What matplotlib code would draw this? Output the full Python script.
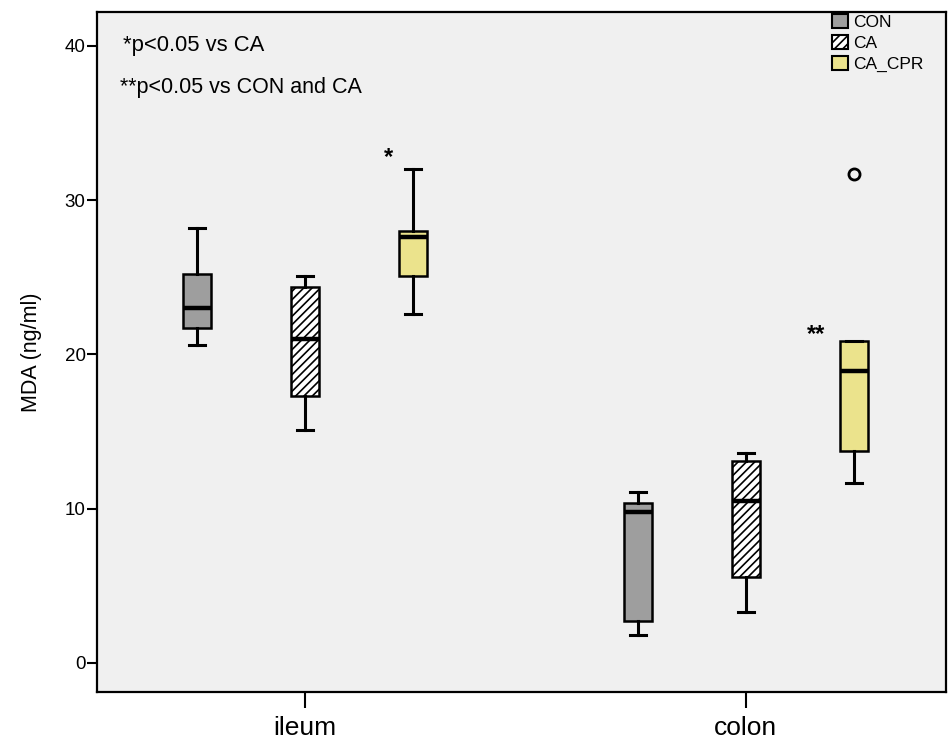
import matplotlib
matplotlib.use("Agg")
import matplotlib.pyplot as plt
from matplotlib.patches import Patch

plt.rcParams['font.family'] = ['Liberation Sans', 'DejaVu Sans']
plt.rcParams['hatch.linewidth'] = 1.2

categories = ['ileum', 'colon']
groups = ['CON', 'CA', 'CA_CPR']

# box statistics per group: [ileum, colon]
whislo = {'CON': [20.6, 1.8], 'CA': [15.1, 3.3], 'CA_CPR': [22.6, 11.65]}
q1     = {'CON': [21.7, 2.75], 'CA': [17.3, 5.6], 'CA_CPR': [25.1, 13.75]}
med    = {'CON': [23.0, 9.8], 'CA': [21.0, 10.5], 'CA_CPR': [27.6, 18.9]}
q3     = {'CON': [25.2, 10.4], 'CA': [24.35, 13.1], 'CA_CPR': [28.0, 20.9]}
whishi = {'CON': [28.2, 11.1], 'CA': [25.1, 13.6], 'CA_CPR': [32.0, 20.9]}
fliers = {'CON': [[], []], 'CA': [[], []], 'CA_CPR': [[], [31.7]]}

yticks = [0, 10, 20, 30, 40]
notes = ['*p<0.05 vs CA', '**p<0.05 vs CON and CA']
star_labels = ['*', '**']
star_pos = [(0.190, 32.9), (1.159, 21.45)]

colors = {'CON': '#9e9e9e', 'CA': 'white', 'CA_CPR': '#ebe38c'}
hatches = {'CON': None, 'CA': '////', 'CA_CPR': None}
offsets = {'CON': -0.245, 'CA': 0.0, 'CA_CPR': 0.245}

fig = plt.figure(figsize=(9.49, 7.44), dpi=100)
ax = fig.add_axes([97/949, 52/744, (946-97)/949, (692-12)/744])
ax.set_facecolor('#f0f0f0')

for g in groups:
    stats = []
    for i in range(len(categories)):
        stats.append(dict(med=med[g][i], q1=q1[g][i], q3=q3[g][i],
                          whislo=whislo[g][i], whishi=whishi[g][i],
                          fliers=fliers[g][i]))
    pos = [i + offsets[g] for i in range(len(categories))]
    bp = ax.bxp(stats, positions=pos, widths=0.063, patch_artist=True,
                showfliers=True,
                boxprops=dict(linewidth=1.8, edgecolor='black'),
                medianprops=dict(color='black', linewidth=3.2),
                whiskerprops=dict(color='black', linewidth=2.2),
                capprops=dict(color='black', linewidth=2.2),
                capwidths=0.035,
                flierprops=dict(marker='o', markersize=8, markerfacecolor='none',
                                markeredgecolor='black', markeredgewidth=2.0))
    for b in bp['boxes']:
        b.set_facecolor(colors[g])
        if hatches[g]:
            b.set_hatch(hatches[g])

ax.set_xlim(-0.472, 1.454)
ax.set_ylim(-1.88, 42.2)
ax.set_xticks(range(len(categories)))
ax.set_xticklabels(categories, fontsize=19)
ax.set_yticks(yticks)
ax.set_yticklabels([str(t) for t in yticks], fontsize=13.5)
ax.tick_params(axis='y', direction='out', length=7.2, width=1.5, color='black', pad=1)
ax.tick_params(axis='x', direction='out', length=11.5, width=1.5, color='black', pad=6)
ax.set_ylabel('MDA (ng/ml)', fontsize=15.5, labelpad=16)
for s in ax.spines.values():
    s.set_linewidth(1.6)
    s.set_color('black')

# annotations
ax.text(-0.413, 40.0, notes[0], fontsize=15.8, va='center', ha='left')
ax.text(-0.42, 37.3, notes[1], fontsize=15.5, va='center', ha='left')
for lab, (xx, yy) in zip(star_labels, star_pos):
    ax.text(xx, yy - 0.15, lab, fontsize=17, fontweight='bold', ha='center', va='center')

# legend
handles = [Patch(facecolor=colors[g], edgecolor='black', hatch=hatches[g], linewidth=1.5)
           for g in groups]
leg = ax.legend(handles, groups, loc='upper left',
                bbox_to_anchor=((832-97)/849, 1 - 2/680),
                frameon=False, fontsize=12.5, handlelength=0.9, handleheight=0.85,
                handletextpad=0.3, labelspacing=0.3, borderpad=0, borderaxespad=0)

fig.savefig('out.png', dpi=100)
